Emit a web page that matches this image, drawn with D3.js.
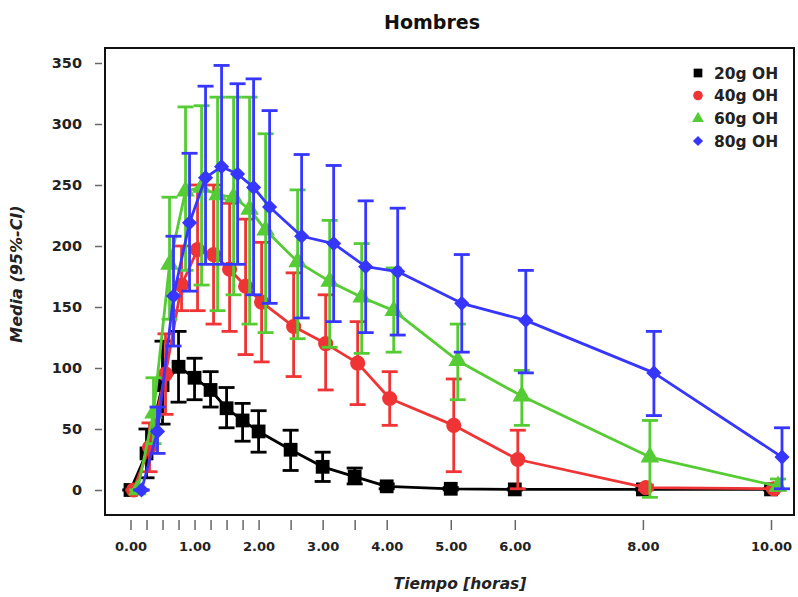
<!DOCTYPE html>
<html>
<head>
<meta charset="utf-8">
<script src="https://cdn.jsdelivr.net/npm/d3@7/dist/d3.min.js"></script>
<style>
  body { margin: 0; background: #fff; }
  svg { display: block; }
  text { font-family: "DejaVu Sans", sans-serif; font-weight: bold; }
</style>
</head>
<body>
<svg id="chart" width="798" height="597"></svg>
<script>
// Sampling times (hours)
const times = [0, 0.25, 0.5, 0.75, 1, 1.25, 1.5, 1.75, 2, 2.5, 3, 3.5, 4, 5, 6, 8, 10];
const labeledTimes = [0, 1, 2, 3, 4, 5, 6, 8, 10];
const yTicks = [0, 50, 100, 150, 200, 250, 300, 350];

const seriesNames = ["20g OH", "40g OH", "60g OH", "80g OH"];

// Mean and 95% CI per dose
const mean20 = [0, 30, 86, 101, 92, 82, 67, 57, 48, 33, 19, 11, 3, 1, 0.5, 0.5, 0.5];
const lo20   = [0, 10, 54, 72, 74, 68, 51, 40, 31, 16, 7, 5, 1, 0, 0, 0, 0];
const hi20   = [0, 50, 122, 130, 108, 97, 84, 71, 65, 49, 31, 18, 5, 2, 1, 1, 1];

const mean40 = [0, 35, 95, 168, 197, 193, 181, 167, 154, 134, 120, 104, 75, 53, 25, 2, 1];
const lo40   = [0, 15, 62, 147, 147, 136, 130, 111, 105, 93, 82, 70, 53, 15, 1, 0, 0];
const hi40   = [0, 55, 128, 200, 250, 250, 235, 222, 203, 178, 160, 138, 97, 91, 49, 4, 2];

const mean60 = [0, 63, 185, 245, 248, 242, 240, 230, 213, 187, 171, 158, 147, 106, 77, 27, 3];
const lo60   = [0, 38, 140, 180, 168, 147, 160, 136, 129, 124, 117, 112, 113, 74, 53, -6, 0];
const hi60   = [0, 92, 240, 314, 315, 322, 322, 322, 292, 246, 221, 202, 182, 136, 98, 57, 9];

const mean80 = [0, 48, 159, 219, 256, 265, 259, 248, 232, 208, 202, 183, 179, 153, 139, 96, 27];
const lo80   = [0, 30, 118, 163, 185, 185, 185, 160, 153, 141, 138, 129, 127, 113, 96, 61, 1];
const hi80   = [0, 68, 208, 276, 331, 348, 333, 337, 311, 275, 266, 237, 231, 193, 180, 130, 51];

const colors = ["#000000", "#ee3434", "#55cc33", "#3636ff"];
const shapes = ["square", "circle", "triangle", "diamond"];
const dodgePx = [0, 3, 7, 11];

const series = [
  { mean: mean20, lo: lo20, hi: hi20 },
  { mean: mean40, lo: lo40, hi: hi40 },
  { mean: mean60, lo: lo60, hi: hi60 },
  { mean: mean80, lo: lo80, hi: hi80 }
].map((s, i) => ({
  name: seriesNames[i], color: colors[i], shape: shapes[i], dodge: dodgePx[i],
  points: times.map((t, j) => ({ t, m: s.mean[j], lo: s.lo[j], hi: s.hi[j] }))
}));

const svg = d3.select("#chart");

// Plot frame
const box = { left: 105, top: 48, right: 794, bottom: 515 };

const x = d3.scaleLinear().domain([0, 10]).range([130.5, 771]);
const y = d3.scaleLinear().domain([0, 350]).range([490, 63]);

// Title
svg.append("text").attr("x", 432).attr("y", 29).attr("text-anchor", "middle")
  .attr("font-size", 19).attr("fill", "#111").text("Hombres");

// X axis (ticks sit below the frame)
const xAxis = d3.axisBottom(x)
  .tickValues(times)
  .tickSize(10)
  .tickPadding(12)
  .tickFormat(d => labeledTimes.includes(d) ? d3.format(".2f")(d) : "");
const gx = svg.append("g").attr("transform", `translate(0,${box.bottom + 5})`).call(xAxis);
gx.select(".domain").remove();
gx.selectAll(".tick line").attr("stroke", "#666").attr("stroke-width", 1.5);
gx.selectAll(".tick text").attr("font-size", 13).attr("fill", "#222")
  .style("font-family", "'DejaVu Sans', sans-serif").style("font-weight", "bold");

// Y axis
const yAxis = d3.axisLeft(y).tickValues(yTicks).tickSize(7).tickPadding(13);
const gy = svg.append("g").attr("transform", `translate(${box.left - 3},0)`).call(yAxis);
gy.select(".domain").remove();
gy.selectAll(".tick line").attr("stroke", "#666").attr("stroke-width", 1.5);
gy.selectAll(".tick text").attr("font-size", 14.5).attr("fill", "#222")
  .style("font-family", "'DejaVu Sans', sans-serif").style("font-weight", "bold");

// Axis titles
svg.append("text").attr("x", 460).attr("y", 589).attr("text-anchor", "middle")
  .attr("font-size", 15.5).attr("font-style", "italic").attr("fill", "#222")
  .text("Tiempo [horas]");
svg.append("text").attr("transform", "translate(22,274) rotate(-90)")
  .attr("text-anchor", "middle").attr("font-size", 16).attr("font-style", "italic")
  .attr("fill", "#222").text("Media (95%-CI)");

// Clip region for the data
svg.append("clipPath").attr("id", "plotClip").append("rect")
  .attr("x", box.left).attr("y", box.top)
  .attr("width", box.right - box.left).attr("height", box.bottom - box.top);

const plot = svg.append("g").attr("clip-path", "url(#plotClip)");

function symbolPath(shape, scale) {
  const k = scale || 1;
  if (shape === "square") return d3.symbol(d3.symbolSquare, 190 * k)();
  if (shape === "circle") return d3.symbol(d3.symbolCircle, 180 * k)();
  if (shape === "triangle") return d3.symbol(d3.symbolTriangle, 150 * k)();
  return d3.symbol(d3.symbolSquare, 115 * k)();
}

const line = d3.line();
const capHalf = 8;

series.forEach(s => {
  const g = plot.append("g");
  const px = d => x(d.t) + s.dodge;

  g.append("path")
    .attr("d", line(s.points.map(d => [px(d), y(d.m)])))
    .attr("fill", "none").attr("stroke", s.color).attr("stroke-width", 2.8)
    .attr("stroke-linejoin", "round");

  const eb = g.selectAll(".eb").data(s.points).join("g")
    .attr("stroke", s.color).attr("stroke-width", 2.8).attr("fill", "none");
  eb.append("line").attr("x1", px).attr("x2", px)
    .attr("y1", d => y(d.lo)).attr("y2", d => y(d.hi));
  eb.append("line").attr("x1", d => px(d) - capHalf).attr("x2", d => px(d) + capHalf)
    .attr("y1", d => y(d.hi)).attr("y2", d => y(d.hi));
  eb.append("line").attr("x1", d => px(d) - capHalf).attr("x2", d => px(d) + capHalf)
    .attr("y1", d => y(d.lo)).attr("y2", d => y(d.lo));

  g.selectAll(".mk").data(s.points).join("path")
    .attr("d", symbolPath(s.shape))
    .attr("transform", d => `translate(${px(d)},${y(d.m)})` + (s.shape === "diamond" ? " rotate(45)" : ""))
    .attr("fill", s.color);
});

// Frame on top
svg.append("rect")
  .attr("x", box.left).attr("y", box.top)
  .attr("width", box.right - box.left).attr("height", box.bottom - box.top)
  .attr("fill", "none").attr("stroke", "#111").attr("stroke-width", 2);

// Legend
const legendRows = [73, 95.5, 118.5, 141];
const legend = svg.append("g");
series.forEach((s, i) => {
  legend.append("path")
    .attr("d", symbolPath(s.shape, s.shape === "diamond" ? 0.45 : 0.4))
    .attr("transform", `translate(698,${legendRows[i]})` + (s.shape === "diamond" ? " rotate(45)" : ""))
    .attr("fill", s.color);
  legend.append("text").attr("x", 714).attr("y", legendRows[i] + 5.5)
    .attr("font-size", 15.5).attr("fill", "#222").text(s.name);
});
</script>
</body>
</html>
